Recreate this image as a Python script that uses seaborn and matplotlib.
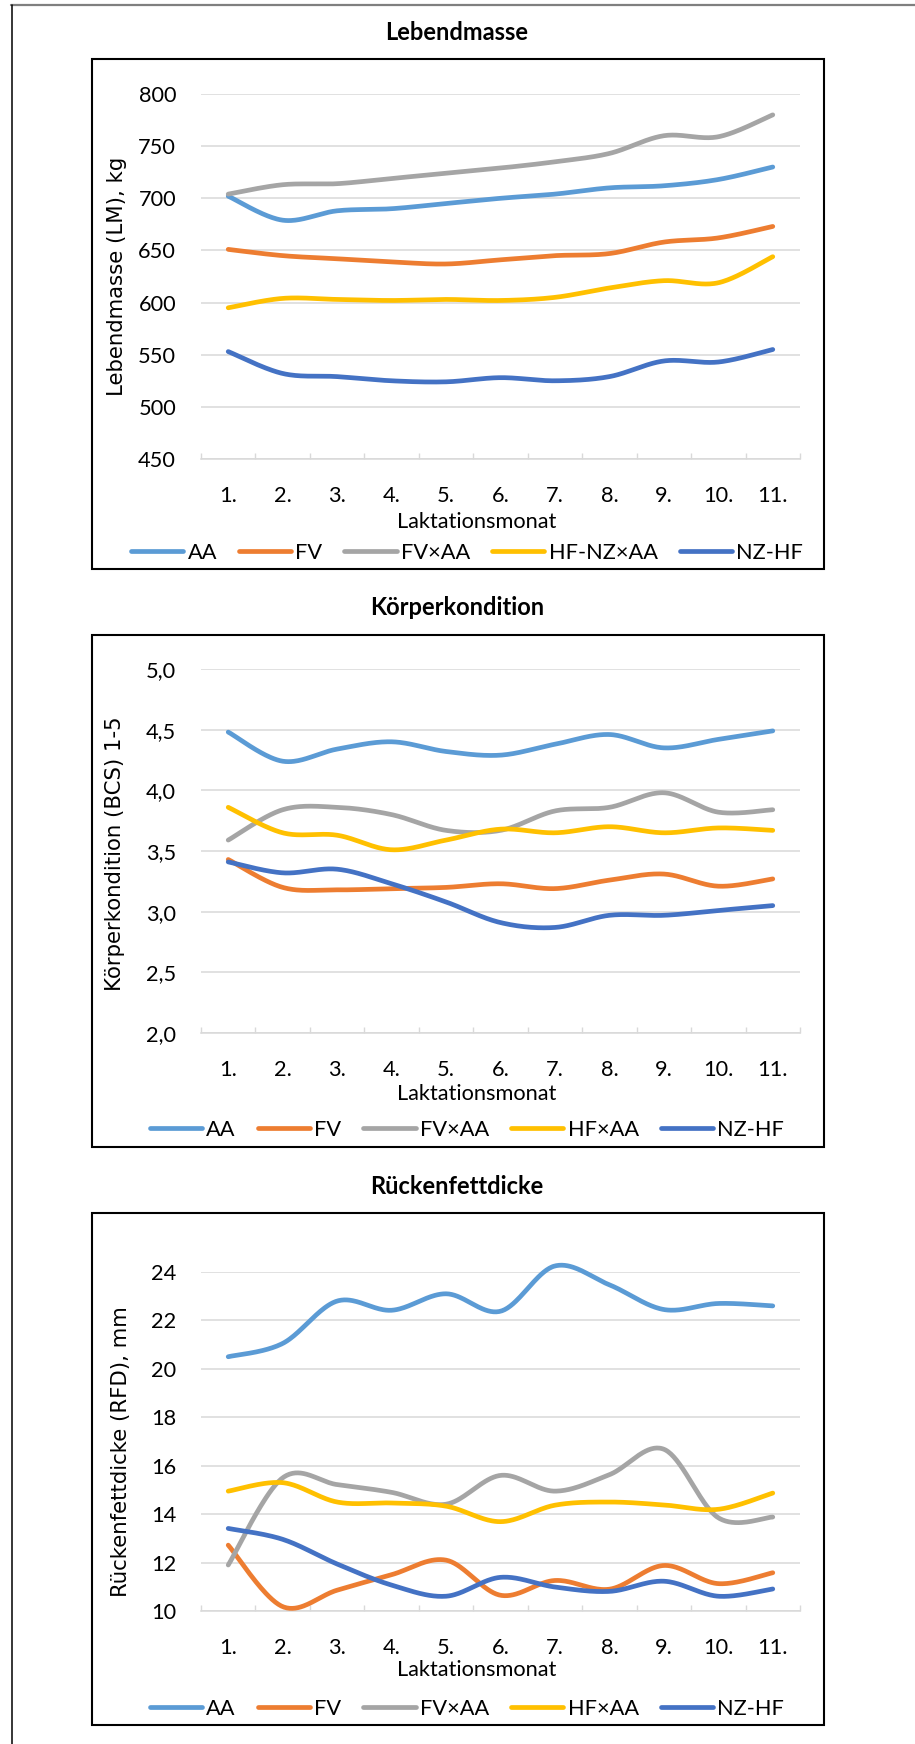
import numpy as np
import pandas as pd
import matplotlib
matplotlib.use("Agg")
import matplotlib.pyplot as plt
from matplotlib.lines import Line2D
from matplotlib.patches import Rectangle
from matplotlib.ticker import FixedLocator, FuncFormatter
import seaborn as sns

# ---------------- data ----------------
months = list(range(1, 12))
month_labels = ["1.", "2.", "3.", "4.", "5.", "6.", "7.", "8.", "9.", "10.", "11."]

# Lebendmasse (LM), kg
lm_groups = ["AA", "FV", "FV×AA", "HF-NZ×AA", "NZ-HF"]
lm_aa = [702, 679, 688, 690, 695, 700, 704, 710, 712, 718, 730]
lm_fv = [651, 645, 642, 639, 637, 641, 645, 647, 658, 662, 673]
lm_fvaa = [704, 713, 714, 719, 724, 729, 735, 743, 760, 759, 780]
lm_hfnzaa = [595, 604, 603, 602, 603, 602, 605, 614, 621, 619, 644]
lm_nzhf = [553, 532, 529, 525, 524, 528, 525, 529, 544, 543, 555]

# Körperkondition (BCS) 1-5
bcs_groups = ["AA", "FV", "FV×AA", "HF×AA", "NZ-HF"]
bcs_aa = [4.48, 4.24, 4.34, 4.40, 4.32, 4.29, 4.38, 4.46, 4.35, 4.42, 4.49]
bcs_fv = [3.43, 3.20, 3.18, 3.19, 3.20, 3.23, 3.19, 3.26, 3.31, 3.21, 3.27]
bcs_fvaa = [3.59, 3.84, 3.86, 3.80, 3.67, 3.67, 3.83, 3.86, 3.98, 3.82, 3.84]
bcs_hfaa = [3.86, 3.65, 3.63, 3.51, 3.59, 3.68, 3.65, 3.70, 3.65, 3.69, 3.67]
bcs_nzhf = [3.41, 3.32, 3.35, 3.23, 3.08, 2.91, 2.87, 2.97, 2.97, 3.01, 3.05]

# Rückenfettdicke (RFD), mm
rfd_groups = ["AA", "FV", "FV×AA", "HF×AA", "NZ-HF"]
rfd_aa = [20.5, 21.05, 22.8, 22.42, 23.1, 22.38, 24.25, 23.47, 22.45, 22.7, 22.6]
rfd_fv = [12.72, 10.18, 10.86, 11.5, 12.1, 10.65, 11.26, 10.9, 11.88, 11.13, 11.58]
rfd_fvaa = [11.9, 15.5, 15.22, 14.9, 14.41, 15.6, 14.95, 15.63, 16.68, 13.85, 13.88]
rfd_hfaa = [14.95, 15.3, 14.5, 14.46, 14.33, 13.69, 14.37, 14.5, 14.38, 14.2, 14.87]
rfd_nzhf = [13.41, 12.96, 11.94, 11.07, 10.61, 11.39, 10.99, 10.81, 11.23, 10.61, 10.91]

colors = ["#5B9BD5", "#ED7D31", "#A5A5A5", "#FFC000", "#4472C4"]

# ---------------- style ----------------
sns.set_theme(style="white")
plt.rcParams["font.family"] = ["Lato", "DejaVu Sans"]
plt.rcParams["text.color"] = "black"

W, H = 915, 1744
fig = plt.figure(figsize=(W / 100, H / 100), dpi=100)

TICK_FS = 15.7
LINE_W = 3.4
GRID_C = "#D9D9D9"


def smooth_curve(x, y, n=40):
    """Smoothed line through the points (cubic Bezier, Catmull-Rom tangents)."""
    p = np.column_stack([x, y]).astype(float)
    ext = np.vstack([p[0], p, p[-1]])
    out = []
    t = np.linspace(0, 1, n)[:, None]
    for i in range(len(p) - 1):
        p0, p1, p2, p3 = ext[i], ext[i + 1], ext[i + 2], ext[i + 3]
        c1 = p1 + (p2 - p0) / 6.0
        c2 = p2 - (p3 - p1) / 6.0
        seg = ((1 - t) ** 3) * p1 + 3 * ((1 - t) ** 2) * t * c1 + 3 * (1 - t) * t ** 2 * c2 + t ** 3 * p2
        out.append(seg if i == 0 else seg[1:])
    arr = np.vstack(out)
    return arr[:, 0], arr[:, 1]


def px_rect(x0, y0, x1, y1):
    return [x0 / W, 1 - y1 / H, (x1 - x0) / W, (y1 - y0) / H]


def draw_panel(rect, title, title_y, box, groups, series, ylim, yticks, yfmt, ylabel,
               ylabel_xy, xlabel_y, legend_y):
    # frame around the chart
    bx0, by0, bx1, by1 = box
    fig.patches.append(Rectangle((bx0 / W, 1 - by1 / H), (bx1 - bx0) / W, (by1 - by0) / H,
                                 transform=fig.transFigure, fill=False, edgecolor="black",
                                 linewidth=1.5, zorder=0))
    fig.text(457 / W, 1 - title_y / H, title, ha="center", va="center",
             fontsize=17, fontweight="bold")

    ax = fig.add_axes(px_rect(*rect))
    rows = []
    for g, vals in zip(groups, series):
        sx, sy = smooth_curve(months, vals)
        rows.append(pd.DataFrame({"x": sx, "y": sy, "group": g}))
    df = pd.concat(rows, ignore_index=True)
    sns.lineplot(data=df, x="x", y="y", hue="group", hue_order=groups,
                 palette=dict(zip(groups, colors)), sort=False, estimator=None,
                 linewidth=LINE_W, legend=False, ax=ax, zorder=3)
    for ln in ax.get_lines():
        ln.set_solid_capstyle("round")
        ln.set_solid_joinstyle("round")
        ln.set_clip_on(False)

    ax.set_xlim(0.5, 11.5)
    ax.set_ylim(*ylim)
    ax.set_yticks(yticks)
    ax.yaxis.set_major_formatter(FuncFormatter(yfmt))
    ax.set_xticks(months)
    ax.set_xticklabels(month_labels)
    ax.xaxis.set_minor_locator(FixedLocator(np.arange(0.5, 12, 1.0)))
    ax.tick_params(axis="x", which="major", length=0, pad=19.5, labelsize=TICK_FS, colors="black")
    ax.tick_params(axis="x", which="minor", length=4.5, width=1.0, direction="in",
                   color=GRID_C, bottom=True)
    ax.tick_params(axis="y", length=0, pad=18, labelsize=TICK_FS, colors="black")
    ax.grid(axis="y", color=GRID_C, linewidth=1.1)
    ax.grid(axis="x", visible=False)
    for s in ["top", "right", "left"]:
        ax.spines[s].set_visible(False)
    ax.spines["bottom"].set_color(GRID_C)
    ax.spines["bottom"].set_linewidth(1.1)
    ax.set_facecolor("none")

    x0, y0, x1, y1 = rect
    aw, ah = x1 - x0, y1 - y0
    ax.set_ylabel(ylabel, fontsize=15.3, family="DejaVu Sans", color="black")
    ax.yaxis.label.set_va("center")
    ax.yaxis.set_label_coords((ylabel_xy[0] - x0) / aw, (y1 - ylabel_xy[1]) / ah)
    ax.set_xlabel("Laktationsmonat", fontsize=TICK_FS, color="black")
    ax.xaxis.label.set_va("center")
    ax.xaxis.set_label_coords((477 - x0) / aw, (y1 - xlabel_y) / ah)

    handles = [Line2D([], [], color=c, linewidth=LINE_W, solid_capstyle="round") for c in colors]
    ax.legend(handles, groups, loc="center", bbox_to_anchor=((467 - x0) / aw, (y1 - legend_y) / ah),
              ncol=5, frameon=False, fontsize=TICK_FS, handlelength=2.4, handletextpad=0.2,
              columnspacing=1.0, borderaxespad=0, borderpad=0)
    return ax


draw_panel((201, 94, 800, 459), "Lebendmasse", 32, (92, 59, 824, 569), lm_groups,
           [lm_aa, lm_fv, lm_fvaa, lm_hfnzaa, lm_nzhf], (450, 800), list(range(450, 801, 50)),
           lambda v, p: f"{v:.0f}", "Lebendmasse (LM), kg", (117, 276), 522, 553)

draw_panel((201, 669, 800, 1033), "Körperkondition", 607, (92, 635, 824, 1147), bcs_groups,
           [bcs_aa, bcs_fv, bcs_fvaa, bcs_hfaa, bcs_nzhf], (2.0, 5.0), list(np.arange(2.0, 5.01, 0.5)),
           lambda v, p: f"{v:.1f}".replace(".", ","), "Körperkondition (BCS) 1-5", (115, 854), 1094, 1130)

draw_panel((201, 1272, 800, 1611), "Rückenfettdicke", 1187, (92, 1213, 824, 1725), rfd_groups,
           [rfd_aa, rfd_fv, rfd_fvaa, rfd_hfaa, rfd_nzhf], (10, 24), list(range(10, 25, 2)),
           lambda v, p: f"{v:.0f}", "Rückenfettdicke (RFD), mm", (121, 1452), 1670, 1709)

# page frame: grey rule along the top, black rule down the left side
fig.lines.append(Line2D([11 / W, 1.0], [1 - 5.5 / H, 1 - 5.5 / H], transform=fig.transFigure,
                        color="#7F7F7F", linewidth=1.6))
fig.lines.append(Line2D([11.5 / W, 11.5 / W], [1 - 5 / H, 0.0], transform=fig.transFigure,
                        color="black", linewidth=1.1))

fig.savefig("out.png", dpi=100, facecolor="white")
